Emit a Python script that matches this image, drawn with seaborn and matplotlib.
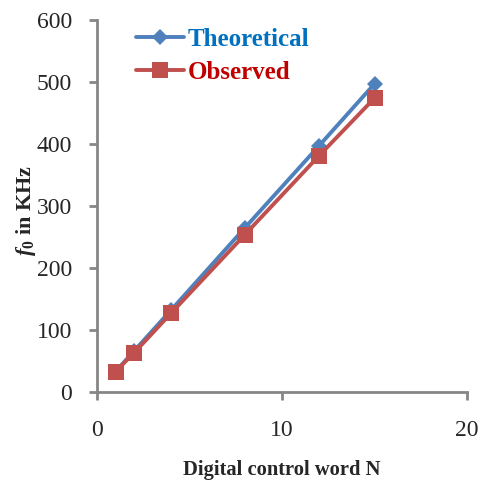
import matplotlib
matplotlib.use("Agg")
import matplotlib.pyplot as plt
import seaborn as sns
import pandas as pd
from matplotlib.lines import Line2D

N = [1, 2, 4, 8, 12, 15]
theoretical = [33, 66, 132, 265, 397, 497]
observed = [33, 63, 127, 254, 381, 474]
xticks = [0, 10, 20]
yticks = [0, 100, 200, 300, 400, 500, 600]

sns.set_style("white")
plt.rcParams['font.family'] = ['Liberation Serif', 'DejaVu Serif']
plt.rcParams['mathtext.fontset'] = 'custom'
plt.rcParams['mathtext.it'] = 'Liberation Serif:italic:bold'
plt.rcParams['mathtext.bf'] = 'Liberation Serif:italic:bold'
plt.rcParams['mathtext.rm'] = 'Liberation Serif:bold'

df = pd.DataFrame({"N": N * 2,
                   "f": theoretical + observed,
                   "series": ["Theoretical"] * len(N) + ["Observed"] * len(N)})

fig = plt.figure(figsize=(4.86, 4.86), dpi=100)
ax = fig.add_axes([97/486, 1 - 392/486, 370/486, 372/486])

palette = {"Theoretical": "#4F81BD", "Observed": "#C0504D"}
sns.lineplot(data=df, x="N", y="f", hue="series", style="series",
             markers={"Theoretical": "D", "Observed": "s"}, dashes=False,
             palette=palette, linewidth=2.8, markersize=10, markeredgewidth=0,
             ax=ax, legend=False)
for line in ax.lines:
    if line.get_marker() == "s":
        line.set_markersize(11.5)
    elif line.get_marker() == "D":
        line.set_markersize(8)

ax.set_xlim(0, 20)
ax.set_ylim(0, 600)
ax.set_xticks(xticks)
ax.set_yticks(yticks)
ax.tick_params(axis='both', labelsize=17, length=6, width=2, color="#868686",
               direction='out', left=True, bottom=True)
ax.tick_params(axis='x', pad=14)
ax.tick_params(axis='y', pad=12)
for s in ["top", "right"]:
    ax.spines[s].set_visible(False)
for s in ["left", "bottom"]:
    ax.spines[s].set_color("#868686")
    ax.spines[s].set_linewidth(2)

ax.set_xlabel("Digital control word N", fontsize=14.8, fontweight='bold', va='center')
ax.xaxis.set_label_coords(0.5, (392 - 470) / 372)
ax.set_ylabel(r"$f_0$ in KHz", fontsize=16, fontweight='bold', va='center')
ax.yaxis.set_label_coords((26 - 97) / 370, (392 - 210) / 372)

handles = [Line2D([], [], color="#4F81BD", marker="D", markersize=8, linewidth=2.8, markeredgewidth=0),
           Line2D([], [], color="#C0504D", marker="s", markersize=11.5, linewidth=2.8, markeredgewidth=0)]
leg = ax.legend(handles, ["Theoretical", "Observed"], loc="upper left",
                bbox_to_anchor=(0.065, 1.02), frameon=False, handlelength=1.9,
                handletextpad=0.15, labelspacing=0.42, borderaxespad=0.2,
                prop={"family": "Liberation Serif", "weight": "bold", "size": 18})
leg.get_texts()[0].set_color("#0070C0")
leg.get_texts()[1].set_color("#C00000")

fig.savefig("out.png", dpi=100)
